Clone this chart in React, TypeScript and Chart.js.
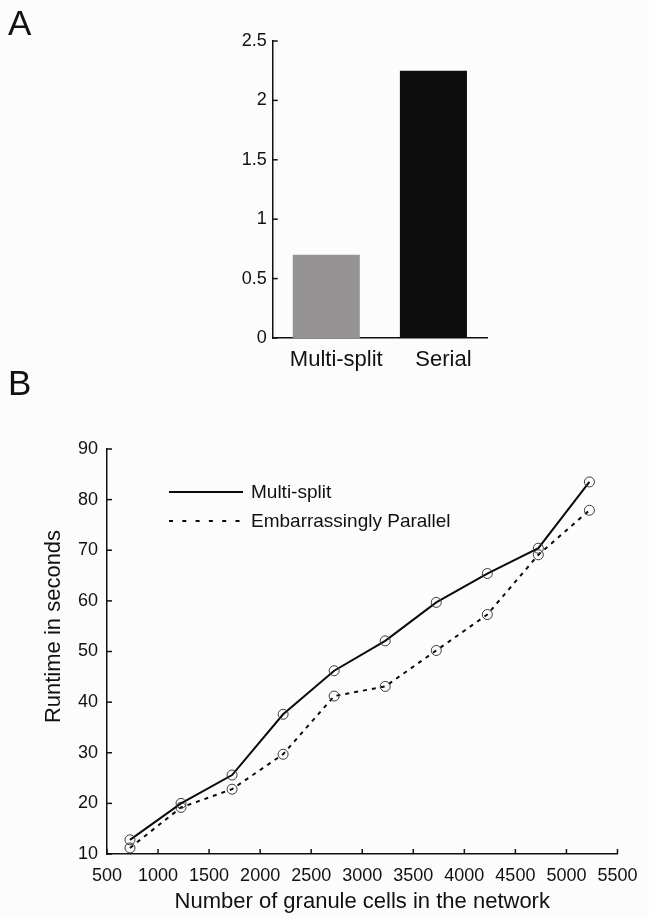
import React, { useEffect, useRef } from "react";
import { Chart, registerables } from "chart.js";

Chart.register(...registerables);

// ---------- Data ----------
const barCategories = ["Multi-split", "Serial"];
const barValues = [0.7, 2.25];
const barColors = ["#959393", "#0d0d0d"];

const cellCounts = [725, 1225, 1725, 2225, 2725, 3225, 3725, 4225, 4725, 5225];
const multiSplitRuntime = [12.8, 20.0, 25.6, 37.6, 46.2, 52.1, 59.7, 65.4, 70.4, 83.5];
const parallelRuntime = [11.2, 19.2, 22.8, 29.7, 41.2, 43.1, 50.2, 57.3, 69.1, 77.9];
const seriesLabels = ["Multi-split", "Embarrassingly Parallel"];

const xAxisTitle = "Number of granule cells in the network";
const yAxisTitle = "Runtime in seconds";

const FONT = '"Liberation Sans", Arial, Helvetica, sans-serif';
const INK = "#111111";

// ---------- Plugins ----------
const insideTicks = {
  id: "insideTicks",
  afterDatasetsDraw(chart: any, _args: any, opts: any) {
    const ctx = chart.ctx;
    const len = opts.length ?? 5;
    ctx.save();
    ctx.strokeStyle = INK;
    ctx.lineWidth = 1.5;
    (opts.axes || []).forEach((id: string) => {
      const s = chart.scales[id];
      s.ticks.forEach((_t: any, i: number) => {
        const p = s.getPixelForTick(i);
        ctx.beginPath();
        if (s.isHorizontal()) {
          ctx.moveTo(p, s.top);
          ctx.lineTo(p, s.top - len);
        } else {
          ctx.moveTo(s.right, p);
          ctx.lineTo(s.right + len, p);
        }
        ctx.stroke();
      });
    });
    ctx.restore();
  },
};

const sideTitle = {
  id: "sideTitle",
  afterDraw(chart: any, _args: any, opts: any) {
    if (!opts.text) return;
    const ctx = chart.ctx;
    const area = chart.chartArea;
    ctx.save();
    ctx.translate(opts.x, (area.top + area.bottom) / 2 + (opts.shift || 0));
    ctx.rotate(-Math.PI / 2);
    ctx.font = `${opts.size}px ${FONT}`;
    ctx.fillStyle = INK;
    ctx.textAlign = "center";
    ctx.textBaseline = "middle";
    ctx.fillText(opts.text, 0, 0);
    ctx.restore();
  },
};

const lineLegend = {
  id: "lineLegend",
  afterDraw(chart: any, _args: any, opts: any) {
    if (!opts.display) return;
    const ctx = chart.ctx;
    const area = chart.chartArea;
    chart.data.datasets.forEach((ds: any, i: number) => {
      const x0 = area.left + opts.left;
      const y = area.top + opts.top + i * opts.gap;
      ctx.save();
      ctx.strokeStyle = ds.borderColor;
      ctx.lineWidth = ds.borderWidth;
      ctx.setLineDash(ds.borderDash && ds.borderDash.length ? opts.dash : []);
      ctx.beginPath();
      ctx.moveTo(x0, y);
      ctx.lineTo(x0 + opts.lineLength, y);
      ctx.stroke();
      ctx.setLineDash([]);
      ctx.font = `${opts.size}px ${FONT}`;
      ctx.fillStyle = INK;
      ctx.textAlign = "left";
      ctx.textBaseline = "middle";
      ctx.fillText(ds.label, x0 + opts.lineLength + opts.textGap, y + 1);
      ctx.restore();
    });
  },
};

// ---------- Charts ----------
function BarPanel() {
  const ref = useRef<HTMLCanvasElement>(null);
  useEffect(() => {
    if (!ref.current) return;
    const chart = new Chart(ref.current, {
      type: "bar",
      data: {
        labels: barCategories,
        datasets: [
          {
            data: barValues,
            backgroundColor: barColors,
            borderWidth: 0,
            barPercentage: 0.626,
            categoryPercentage: 1,
          },
        ],
      },
      plugins: [insideTicks],
      options: {
        animation: false,
        responsive: false,
        events: [],
        layout: { padding: { left: 0, top: 41, right: 162, bottom: 0 } },
        plugins: {
          legend: { display: false },
          tooltip: { enabled: false },
          insideTicks: { axes: ["y"], length: 5 },
        } as any,
        scales: {
          x: {
            grid: { display: false, drawTicks: false },
            border: { display: true, color: INK, width: 1.5 },
            ticks: {
              color: INK,
              font: { family: FONT, size: 22 },
              padding: 9,
              labelOffset: 10,
            },
            afterFit: (s: any) => {
              s.height = 47;
            },
          },
          y: {
            min: 0,
            max: 2.5,
            grid: { display: false, drawTicks: false },
            border: { display: true, color: INK, width: 1.5 },
            ticks: {
              stepSize: 0.5,
              color: INK,
              font: { family: FONT, size: 18 },
              padding: 6,
              callback: (v: any) => String(v),
            },
            afterFit: (s: any) => {
              s.width = 272.7;
            },
          },
        },
      },
    });
    return () => chart.destroy();
  }, []);
  return (
    <canvas
      ref={ref}
      width={649}
      height={385}
      style={{ position: "absolute", left: 0, top: 0, width: 649, height: 385 }}
    />
  );
}

function LinePanel() {
  const ref = useRef<HTMLCanvasElement>(null);
  useEffect(() => {
    if (!ref.current) return;
    const pointStyle = {
      pointRadius: 5,
      pointBorderWidth: 1,
      pointBorderColor: "#3a3a3a",
      pointBackgroundColor: "rgba(0,0,0,0)",
      pointStyle: "circle",
    };
    const chart = new Chart(ref.current, {
      type: "line",
      data: {
        datasets: [
          {
            label: seriesLabels[0],
            data: cellCounts.map((x, i) => ({ x, y: multiSplitRuntime[i] })),
            borderColor: "#0a0a0a",
            borderWidth: 2,
            tension: 0,
            fill: false,
            ...pointStyle,
          },
          {
            label: seriesLabels[1],
            data: cellCounts.map((x, i) => ({ x, y: parallelRuntime[i] })),
            borderColor: "#0a0a0a",
            borderWidth: 2,
            borderDash: [4, 5],
            tension: 0,
            fill: false,
            ...pointStyle,
          },
        ],
      },
      plugins: [insideTicks, sideTitle, lineLegend],
      options: {
        animation: false,
        responsive: false,
        events: [],
        layout: { padding: { left: 0, top: 64, right: 27, bottom: 0 } },
        plugins: {
          legend: { display: false },
          tooltip: { enabled: false },
          insideTicks: { axes: ["x", "y"], length: 5 },
          sideTitle: { text: yAxisTitle, x: 54, size: 22, shift: -25 },
          lineLegend: {
            display: true,
            left: 62,
            top: 43,
            gap: 29,
            lineLength: 74,
            textGap: 8,
            size: 19,
            dash: [4, 9.3],
          },
        } as any,
        scales: {
          x: {
            type: "linear",
            min: 500,
            max: 5500,
            grid: { display: false, drawTicks: false },
            border: { display: true, color: INK, width: 1.5 },
            ticks: {
              stepSize: 500,
              color: INK,
              font: { family: FONT, size: 18 },
              padding: 11.5,
              maxRotation: 0,
              autoSkip: false,
              callback: (v: any) => String(v),
            },
            title: {
              display: true,
              text: xAxisTitle,
              color: INK,
              font: { family: FONT, size: 22 },
              padding: { top: 0, bottom: 3 },
            },
            afterFit: (s: any) => {
              s.height = 64;
            },
          },
          y: {
            min: 10,
            max: 90,
            grid: { display: false, drawTicks: false },
            border: { display: true, color: INK, width: 1.5 },
            ticks: {
              stepSize: 10,
              color: INK,
              font: { family: FONT, size: 18 },
              padding: 9,
            },
            afterFit: (s: any) => {
              s.width = 107;
            },
          },
        },
      },
    });
    return () => chart.destroy();
  }, []);
  return (
    <canvas
      ref={ref}
      width={649}
      height={533}
      style={{ position: "absolute", left: 0, top: 385, width: 649, height: 533 }}
    />
  );
}

export default function App() {
  useEffect(() => {
    document.body.style.margin = "0";
    document.body.style.background = "#fcfcfc";
  }, []);
  const letter: React.CSSProperties = {
    position: "absolute",
    fontFamily: FONT,
    fontSize: 35,
    lineHeight: 1,
    color: INK,
  };
  return (
    <div
      style={{
        position: "relative",
        width: 649,
        height: 918,
        background: "#fcfcfc",
        overflow: "hidden",
      }}
    >
      <BarPanel />
      <LinePanel />
      <div style={{ ...letter, left: 8, top: 5 }}>A</div>
      <div style={{ ...letter, left: 8, top: 365 }}>B</div>
    </div>
  );
}
